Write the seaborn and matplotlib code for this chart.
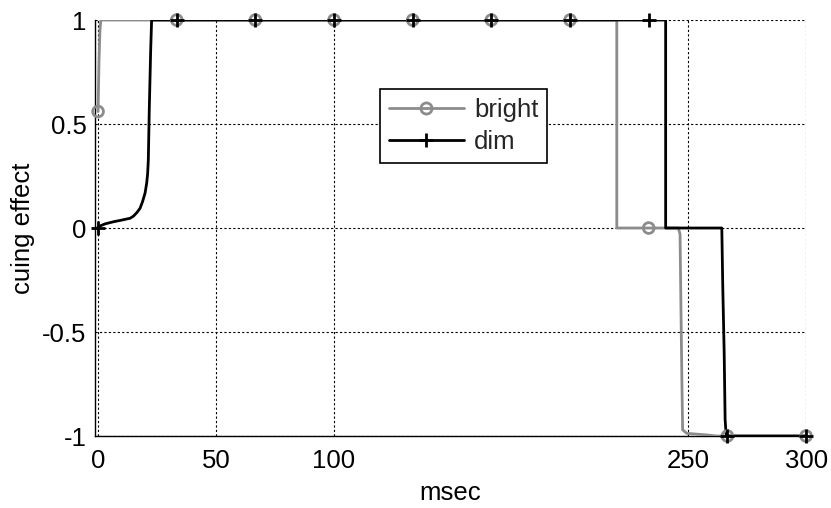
import numpy as np
import pandas as pd
import matplotlib
matplotlib.use("Agg")
import matplotlib.pyplot as plt
from matplotlib.lines import Line2D
import seaborn as sns

sns.set_theme(style="white")
plt.rcParams['font.family'] = ['Liberation Sans', 'DejaVu Sans']

# bright condition: trace (msec, cuing effect)
bright_t = [0, 0.4, 0.8, 1.2, 219.8, 219.8, 245.9, 246.6, 247.0, 247.4, 247.7,
            249.4, 258.0, 262.0, 300]
bright_v = [0.56, 0.80, 0.95, 1.0, 1.0, 0.0, 0.0, -0.03, -0.40, -0.75, -0.97,
            -0.987, -0.995, -1.0, -1.0]

# dim condition: trace (msec, cuing effect)
dim_t = [0, 3.0, 6.5, 10.0, 13.6, 15.0, 16.5, 17.8, 18.8, 19.9, 20.6, 21.0, 21.3,
         21.7, 22.3, 22.7, 240.5, 240.5, 264.3, 264.7, 265.3, 265.7, 266.1, 267.0, 300]
dim_v = [0.006, 0.02, 0.03, 0.038, 0.047, 0.057, 0.075, 0.095, 0.125, 0.167, 0.215,
         0.26, 0.327, 0.567, 0.856, 1.0, 1.0, 0.0, 0.0, -0.28, -0.60, -0.92, -0.99,
         -1.0, -1.0]

# marker samples
marker_t = [0, 33.33, 66.67, 100, 133.33, 166.67, 200, 233.33, 266.67, 300]
bright_mk = [0.56, 1, 1, 1, 1, 1, 1, 0, -1, -1]
dim_mk = [0, 1, 1, 1, 1, 1, 1, 1, -1, -1]

xticks = [0, 50, 100, 250, 300]
yticks = [-1, -0.5, 0, 0.5, 1]
ytick_labels = ['-1', '-0.5', '0', '0.5', '1']

gray = '#8c8c8c'
fs = 18.5

fig, ax = plt.subplots(figsize=(8.31, 5.08), dpi=100)
fig.subplots_adjust(left=0.1143, right=0.970, bottom=0.1417, top=0.9606)

bright_df = pd.DataFrame({'t': bright_t, 'v': bright_v})
dim_df = pd.DataFrame({'t': dim_t, 'v': dim_v})
bright_mk_df = pd.DataFrame({'t': marker_t, 'v': bright_mk})
dim_mk_df = pd.DataFrame({'t': marker_t, 'v': dim_mk})

sns.lineplot(data=bright_df, x='t', y='v', ax=ax, color=gray, lw=2,
             estimator=None, sort=False, zorder=3)
sns.lineplot(data=dim_df, x='t', y='v', ax=ax, color='black', lw=2,
             estimator=None, sort=False, zorder=4)
sns.scatterplot(data=bright_mk_df, x='t', y='v', ax=ax, marker='o', s=60,
                facecolor='none', edgecolor=gray, linewidth=2, zorder=5, clip_on=False)
sns.scatterplot(data=dim_mk_df, x='t', y='v', ax=ax, marker='+', s=110,
                color='black', linewidth=2, zorder=6, clip_on=False)

ax.set_xlim(-1.3, 300)
ax.set_ylim(-1, 1)
ax.set_xticks(xticks)
ax.set_xticklabels([str(x) for x in xticks])
ax.set_yticks(yticks)
ax.set_yticklabels(ytick_labels)
ax.tick_params(direction='in', length=5, width=1, labelsize=fs, colors='black')
ax.tick_params(axis='x', pad=9)
ax.tick_params(axis='y', pad=6)

ax.grid(True, color='black', linestyle=(0, (2, 2)), linewidth=0.8)
for s in ['top', 'right']:
    ax.spines[s].set_visible(False)
for s in ['left', 'bottom']:
    ax.spines[s].set_color('black')
    ax.spines[s].set_linewidth(1.0)

ax.set_xlabel('msec', fontsize=fs, color='black', labelpad=6)
ax.set_ylabel('cuing effect', fontsize=fs, color='black', labelpad=5)

handles = [Line2D([0], [0], color=gray, lw=2, marker='o', markersize=8,
                  markerfacecolor='none', markeredgecolor=gray, markeredgewidth=2),
           Line2D([0], [0], color='black', lw=2, marker='+', markersize=10,
                  markeredgewidth=2)]
leg = ax.legend(handles, ['bright', 'dim'], loc='upper left',
                bbox_to_anchor=(0.401, 0.834), borderaxespad=0, fontsize=fs,
                fancybox=False, framealpha=1, edgecolor='black',
                handlelength=2.9, handletextpad=0.4, labelspacing=0.3,
                borderpad=0.35)
leg.get_frame().set_linewidth(1.2)
leg.set_zorder(10)

plt.savefig('out.png', dpi=100)
